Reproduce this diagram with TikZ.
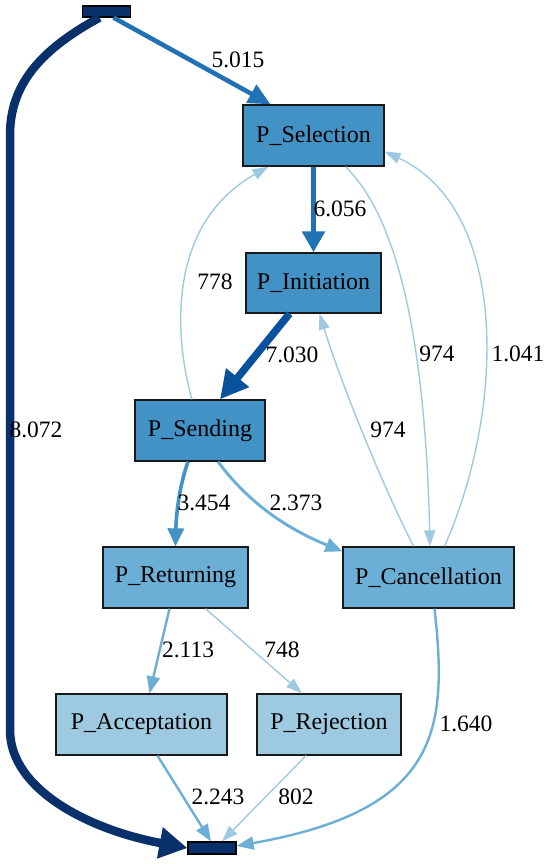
\documentclass[tikz,border=0pt]{standalone}
\usepackage{fontspec}
\setmainfont{Liberation Serif}
\usetikzlibrary{arrows.meta}
\definecolor{cA}{HTML}{08306B}
\definecolor{cB}{HTML}{08519C}
\definecolor{cC}{HTML}{2171B5}
\definecolor{cD}{HTML}{4292C6}
\definecolor{cE}{HTML}{6BAED6}
\definecolor{cF}{HTML}{9ECAE1}
\tikzset{
  box/.style={draw=black!90, line width=1.3pt, inner sep=0pt, minimum height=61pt, font=\fontsize{24}{28}\selectfont},
  term/.style={draw=black, line width=1.2pt, fill=cA, inner sep=0pt, minimum width=48pt, minimum height=11pt},
  lbl/.style={font=\fontsize{23.5}{28}\selectfont, inner sep=0pt},
  elight/.style={draw=cF, line width=1.4pt, -{Triangle[length=16pt,width=11pt]}},
  emid/.style={draw=cE, line width=2.4pt, -{Triangle[length=17pt,width=13pt]}},
}
\begin{document}
\begin{tikzpicture}[x=1pt,y=-1pt]
\useasboundingbox (0,0) rectangle (548,864);
% nodes
\node[term] (start) at (106.5,11.5) {};
\node[term, minimum height=12pt] (end) at (212,848) {};
\node[box, fill=cD, minimum width=141pt] (sel) at (313.5,135.5) {P\_Selection};
\node[box, fill=cD, minimum width=135pt, minimum height=60pt] (ini) at (313.5,283) {P\_Initiation};
\node[box, fill=cD, minimum width=130pt] (sen) at (200,430.5) {P\_Sending};
\node[box, fill=cE, minimum width=145pt] (ret) at (175.5,577.5) {P\_Returning};
\node[box, fill=cE, minimum width=171pt] (can) at (428.5,577.5) {P\_Cancellation};
\node[box, fill=cF, minimum width=171pt] (acc) at (141.5,724.5) {P\_Acceptation};
\node[box, fill=cF, minimum width=144pt] (rej) at (329,724.5) {P\_Rejection};
% edges
\draw[draw=cA, line width=8.5pt, -{Triangle[length=28pt,width=30pt]}]
  ([xshift=-7pt]start.south) .. controls (40,50) and (10,85) .. (10,135)
  -- (10,730) .. controls (10,790) and (90,830) .. (end.west);
\node[lbl] (l8072) at (36,430) {8.072};
\draw[draw=cC, line width=4.6pt, -{Triangle[length=22pt,width=20pt]}]
  ([xshift=7pt]start.south) -- ([xshift=-43pt]sel.north);
\node[lbl] (l5015) at (238,60) {5.015};
\draw[draw=cC, line width=5.8pt, -{Triangle[length=21pt,width=22pt]}]
  (sel.south) -- (ini.north);
\node[lbl] (l6056) at (340,209) {6.056};
\draw[draw=cB, line width=7.5pt, -{Triangle[length=28pt,width=28pt]}]
  ([xshift=-24pt]ini.south) -- ([xshift=20pt]sen.north);
\node[lbl] (l7030) at (292,355) {7.030};
\draw[elight] ([xshift=-8pt]sen.north) .. controls (175,340) and (165,225) .. ([xshift=-45pt]sel.south);
\node[lbl] (l778) at (215,282) {778};
\draw[elight] ([xshift=32pt]sel.south) .. controls (395,215) and (425,330) .. ([xshift=1.5pt]can.north);
\node[lbl] (l974a) at (437,354) {974};
\draw[elight] ([xshift=16pt]can.north) .. controls (505,410) and (510,210) .. ([yshift=-16pt]sel.east);
\node[lbl] (l1041) at (518,354) {1.041};
\draw[elight] ([xshift=-15pt]can.north) .. controls (380,480) and (340,380) .. ([xshift=6pt]ini.south);
\node[lbl] (l974b) at (388,430) {974};
\draw[draw=cD, line width=3.6pt, -{Triangle[length=18pt,width=16pt]}]
  ([xshift=-12pt]sen.south) .. controls (178,490) and (176,520) .. (ret.north);
\node[lbl] (l3454) at (204,503) {3.454};
\draw[draw=cE, line width=2.9pt, -{Triangle[length=17pt,width=14pt]}]
  ([xshift=18pt]sen.south) .. controls (250,505) and (290,530) .. ([yshift=-5pt]can.north west);
\node[lbl] (l2373) at (296,503) {2.373};
\draw[emid] ([xshift=-6pt]ret.south) -- ([xshift=8pt]acc.north);
\node[lbl] (l2113) at (188,650) {2.113};
\draw[elight] ([xshift=30pt]ret.south) -- ([xshift=-27pt]rej.north);
\node[lbl] (l748) at (282,650) {748};
\draw[emid] ([xshift=16pt]acc.south) -- ([xshift=-1pt]end.north);
\node[lbl] (l2243) at (218,797) {2.243};
\draw[elight] ([xshift=-23pt]rej.south) -- ([xshift=10pt]end.north);
\node[lbl] (l802) at (296,797) {802};
\draw[emid] ([xshift=6pt]can.south) .. controls (448,730) and (440,810) .. ([yshift=2pt]end.east);
\node[lbl] (l1640) at (466,724) {1.640};
\end{tikzpicture}
\end{document}
